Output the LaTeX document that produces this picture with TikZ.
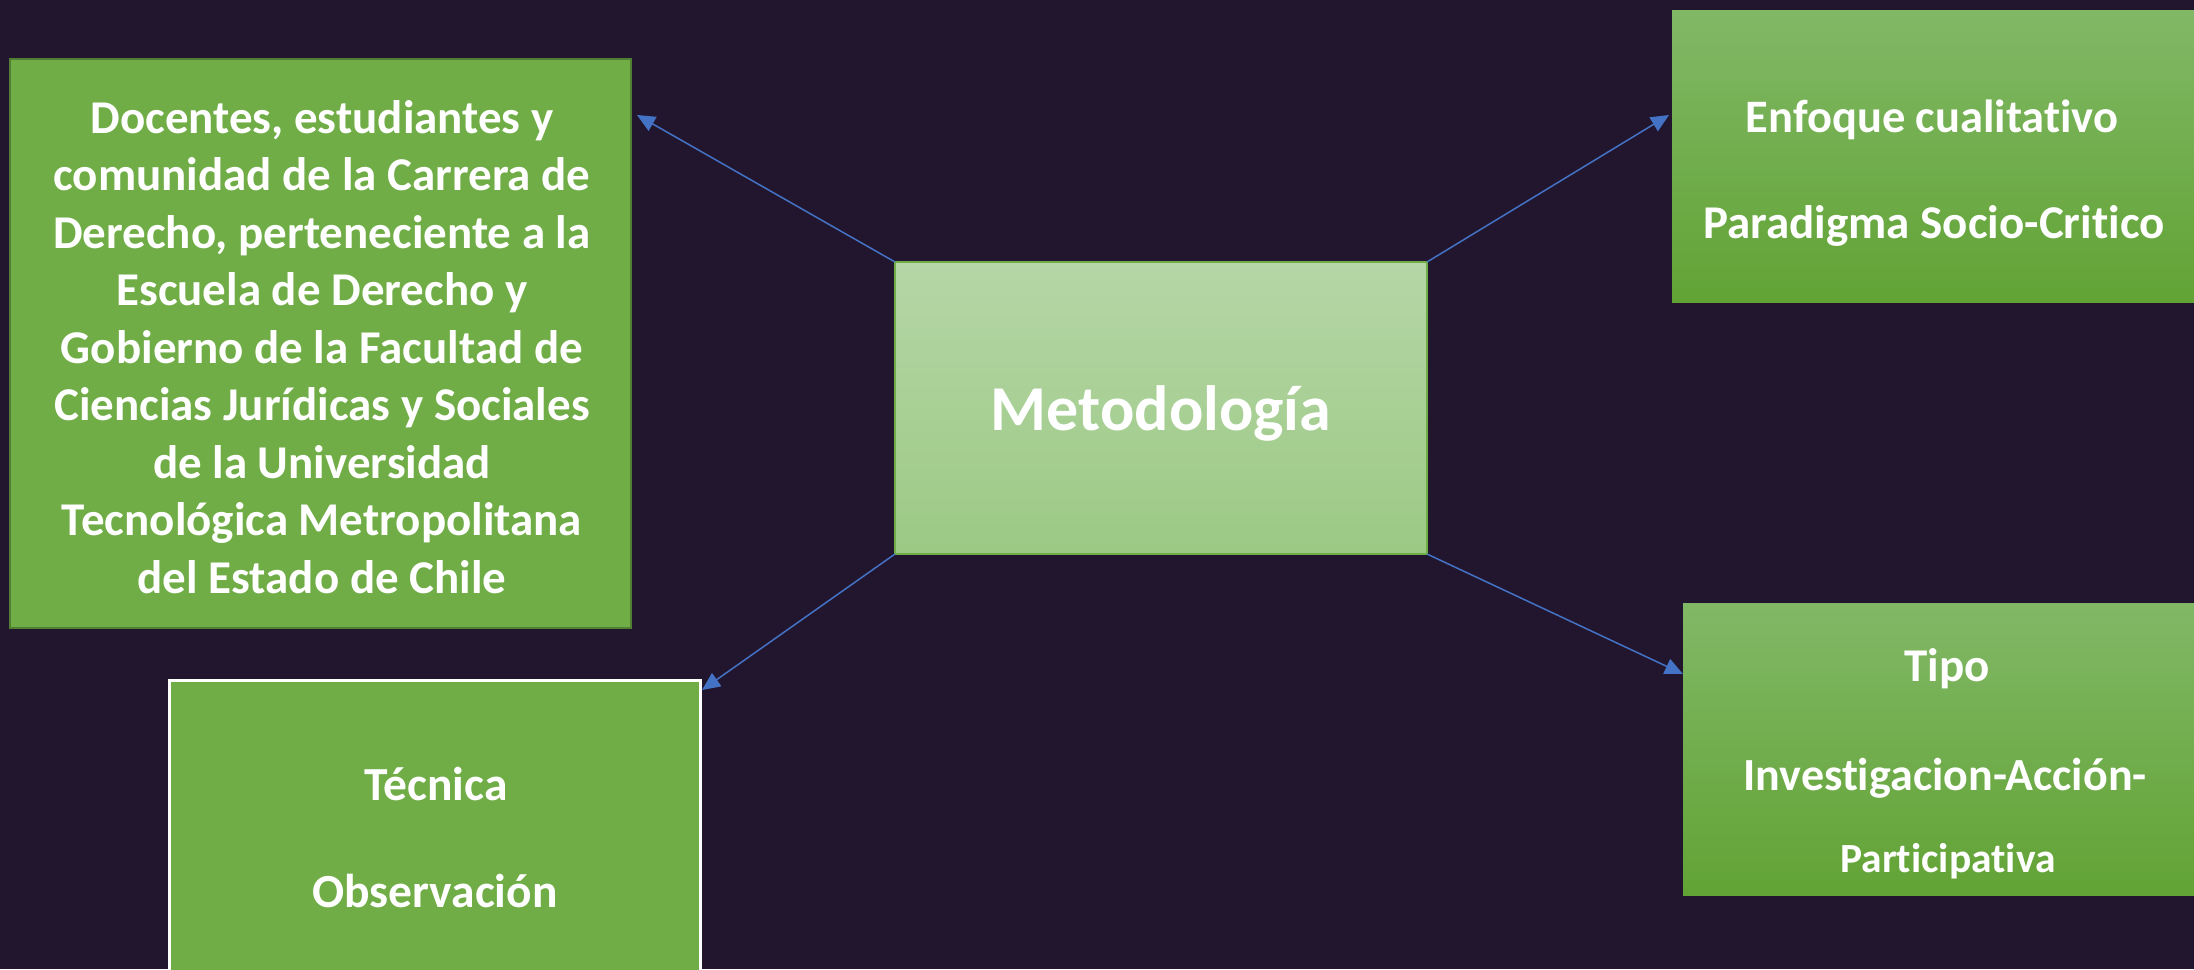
\documentclass[tikz,border=0pt]{standalone}
\usepackage{fontspec}
\setmainfont{Carlito}[Ligatures=NoCommon]
\usetikzlibrary{arrows.meta}
\definecolor{bg}{HTML}{22162F}
\definecolor{mygreen}{HTML}{70AD47}
\definecolor{darkgreen}{HTML}{507E32}
\definecolor{lighttop}{HTML}{B5D6A6}
\definecolor{lightbot}{HTML}{9CC984}
\definecolor{gradtop}{HTML}{81B866}
\definecolor{gradbot}{HTML}{62A335}
\definecolor{arrowblue}{HTML}{4472C4}
\tikzset{
  boxshape/.style={rectangle, inner sep=0pt, outer sep=0pt},
  flatbox/.style={boxshape, fill=mygreen, draw=darkgreen, line width=2pt},
  gradbox/.style={boxshape, top color=gradtop, bottom color=gradbot, draw=none},
  mainbox/.style={boxshape, top color=lighttop, bottom color=lightbot, draw=mygreen, line width=1.5pt},
  whitebox/.style={boxshape, fill=mygreen, draw=white, line width=3pt},
  txt/.style={text=white, inner sep=0pt, outer sep=0pt},
  conn/.style={draw=arrowblue, line width=1.5pt, -{Triangle[length=18pt,width=16pt]}}
}
\newcommand{\fsz}[2]{\bfseries\fontsize{#1}{#2}\selectfont}
\begin{document}
\begin{tikzpicture}[x=1pt,y=-1pt]
\fill[bg] (0,0) rectangle (2194,969);
\useasboundingbox (0,0) rectangle (2194,969);

% boxes
\node[flatbox, minimum width=621pt, minimum height=569pt] (left) at (320.5,343.5) {};
\node[mainbox, minimum width=532pt, minimum height=292pt] (center) at (1161,408) {};
\node[gradbox, minimum width=540pt, minimum height=292pt] (tr) at (1942,156) {};
\node[gradbox, minimum width=530pt, minimum height=292pt] (br) at (1948,749) {};
\node[whitebox, minimum width=531pt, minimum height=310pt] (bl) at (434.5,835) {};

% texts
\node[txt, anchor=base, font=\fsz{64}{70}] (metodo) at (1161,430) {Metodología};
\node[txt, align=center, font=\fsz{47}{57.5}] (lefttext) at (322,347)
 {Docentes, estudiantes y\\comunidad de la Carrera de\\Derecho, perteneciente a la\\Escuela de Derecho y\\Gobierno de la Facultad de\\Ciencias Jurídicas y Sociales\\de la Universidad\\Tecnológica Metropolitana\\del Estado de Chile};
\node[txt, anchor=base, font=\fsz{46.5}{50}] (enfoque) at (1932,132) {Enfoque cualitativo};
\node[txt, anchor=base, font=\fsz{47}{50}] (paradigma) at (1934,238) {Paradigma Socio-Critico};
\node[txt, anchor=base, font=\fsz{47}{50}] (tipo) at (1947,681) {Tipo};
\node[txt, anchor=base, font=\fsz{46}{50}] (invest) at (1945,790) {Investigacion-Acción-};
\node[txt, anchor=base, font=\fsz{41.5}{45}] (partic) at (1948,872) {Participativa};
\node[txt, anchor=base, font=\fsz{47.5}{50}] (tecnica) at (436,800) {Técnica};
\node[txt, anchor=base, font=\fsz{47.5}{50}] (observ) at (435,907) {Observación};

% arrow ends
\coordinate (eL) at (637,115);
\coordinate (eTR) at (1669,115);
\coordinate (eBL) at (702,690);
\coordinate (eBR) at (1683,674);

\draw[conn] (center.north west) -- (eL);
\draw[conn] (center.north east) -- (eTR);
\draw[conn] (center.south west) -- (eBL);
\draw[conn] (center.south east) -- (eBR);
\end{tikzpicture}
\end{document}
